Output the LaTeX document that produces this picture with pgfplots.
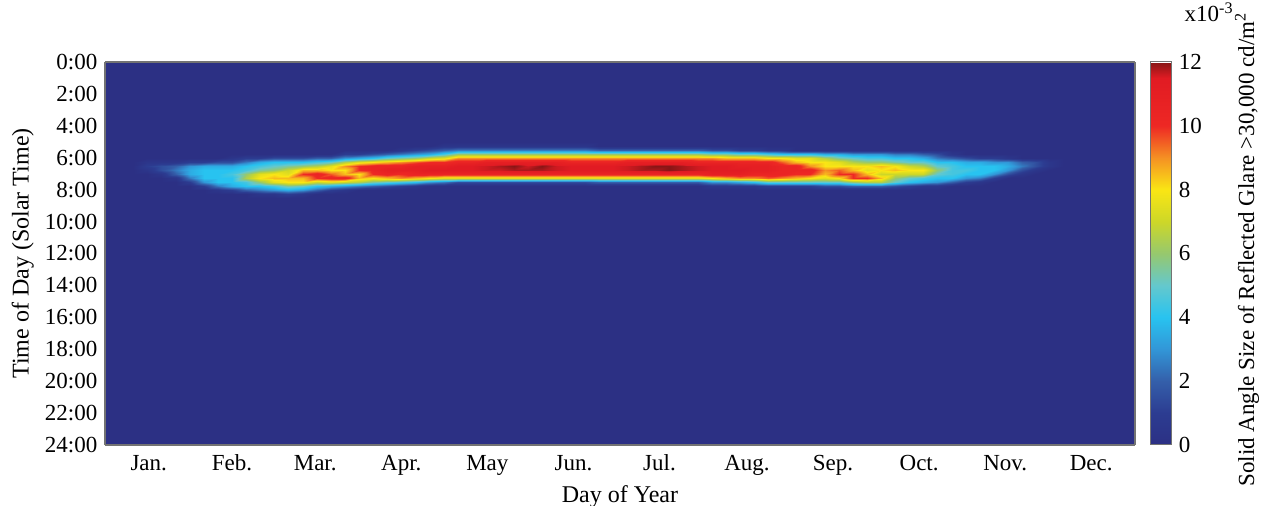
\documentclass[11pt,border=0pt]{standalone}
\usepackage{fontspec}
\setmainfont{Liberation Serif}
\usepackage{pgfplots}
\pgfplotsset{compat=1.18}

% jet-like map used by the glare plot (0 ... 12 x10^-3 sr)
\pgfplotsset{colormap={glare}{
  rgb255(0cm)=(44,48,132); rgb255(1cm)=(44,60,145); rgb255(2cm)=(52,95,170);
  rgb255(3cm)=(50,150,215); rgb255(4cm)=(40,195,240); rgb255(5cm)=(100,200,205);
  rgb255(6cm)=(150,200,110); rgb255(7cm)=(205,215,40); rgb255(8cm)=(250,230,20);
  rgb255(9cm)=(245,145,35); rgb255(10cm)=(238,40,36); rgb255(11.5cm)=(225,27,35);
  rgb255(12cm)=(135,22,22)}}

\begin{document}
\begin{tikzpicture}
\begin{axis}[
  name=main,
  view={0}{90},
  width=515pt, height=191.5pt, scale only axis,
  xmin=0, xmax=365, ymin=0, ymax=24,
  y dir=reverse,
  enlargelimits=false,
  xtick={15.5,45,74.5,105,135.5,166,196.5,227.5,258,288.5,319,349.5},
  xticklabels={Jan.,Feb.,Mar.,Apr.,May,Jun.,Jul.,Aug.,Sep.,Oct.,Nov.,Dec.},
  ytick={0,2,...,24},
  yticklabels={0:00,2:00,4:00,6:00,8:00,10:00,12:00,14:00,16:00,18:00,20:00,22:00,24:00},
  ztick=\empty,
  major tick length=0pt,
  tick label style={font=\fontsize{11.5}{13}\selectfont},
  xticklabel style={anchor=base, yshift=-12.5pt},
  label style={font=\fontsize{12}{14}\selectfont},
  xlabel={Day of Year},
  ylabel={Time of Day (Solar Time)},
  xlabel shift=-2pt,
  ylabel shift=-2pt,
  axis line style={draw=black!55, line width=0.6pt},
  point meta min=0, point meta max=12,
  colormap name=glare,
  colorbar,
  colorbar style={
    at={(parent axis.north east)}, anchor=north west, xshift=-1pt,
    width=10.5pt,
    ytick={0,2,...,12},
    yticklabels={0,2,4,6,8,10,12},
    major tick length=0pt,
    tick label style={font=\fontsize{11.5}{13}\selectfont},
    axis line style={draw=black!55, line width=0.5pt},
  },
  axis on top,
]
\addplot3[surf, shader=interp, mesh/ordering=y varies, mesh/rows=17]
  table[row sep=\\, x=d, y=t, z=v] {
d t v\\
0 0 0\\ 0 5 0\\ 0 5.25 0\\ 0 5.5 0\\ 0 5.75 0\\ 0 6 0\\ 0 6.25 0\\ 0 6.5 0\\ 0 6.75 0\\ 0 7 0\\ 0 7.25 0\\ 0 7.5 0\\ 0 7.75 0\\ 0 8 0\\ 0 8.25 0\\ 0 8.5 0\\ 0 24 0\\
10 0 0\\ 10 5 0\\ 10 5.25 0\\ 10 5.5 0\\ 10 5.75 0\\ 10 6 0\\ 10 6.25 0\\ 10 6.5 0\\ 10 6.75 0\\ 10 7 0\\ 10 7.25 0\\ 10 7.5 0\\ 10 7.75 0\\ 10 8 0\\ 10 8.25 0\\ 10 8.5 0\\ 10 24 0\\
15 0 0\\ 15 5 0\\ 15 5.25 0\\ 15 5.5 0\\ 15 5.75 0\\ 15 6 0\\ 15 6.25 0.5\\ 15 6.5 1\\ 15 6.75 0.5\\ 15 7 0\\ 15 7.25 0\\ 15 7.5 0\\ 15 7.75 0\\ 15 8 0\\ 15 8.25 0\\ 15 8.5 0\\ 15 24 0\\
20 0 0\\ 20 5 0\\ 20 5.25 0\\ 20 5.5 0\\ 20 5.75 0\\ 20 6 0\\ 20 6.25 0.5\\ 20 6.5 1.5\\ 20 6.75 1.5\\ 20 7 0.5\\ 20 7.25 0\\ 20 7.5 0\\ 20 7.75 0\\ 20 8 0\\ 20 8.25 0\\ 20 8.5 0\\ 20 24 0\\
25 0 0\\ 25 5 0\\ 25 5.25 0\\ 25 5.5 0\\ 25 5.75 0\\ 25 6 0\\ 25 6.25 0.5\\ 25 6.5 2\\ 25 6.75 2.5\\ 25 7 2\\ 25 7.25 0.5\\ 25 7.5 0\\ 25 7.75 0\\ 25 8 0\\ 25 8.25 0\\ 25 8.5 0\\ 25 24 0\\
30 0 0\\ 30 5 0\\ 30 5.25 0\\ 30 5.5 0\\ 30 5.75 0\\ 30 6 0\\ 30 6.25 1\\ 30 6.5 3\\ 30 6.75 3.5\\ 30 7 3.5\\ 30 7.25 2.5\\ 30 7.5 1\\ 30 7.75 0\\ 30 8 0\\ 30 8.25 0\\ 30 8.5 0\\ 30 24 0\\
35 0 0\\ 35 5 0\\ 35 5.25 0\\ 35 5.5 0\\ 35 5.75 0\\ 35 6 0\\ 35 6.25 1\\ 35 6.5 3.5\\ 35 6.75 4\\ 35 7 4\\ 35 7.25 4\\ 35 7.5 3\\ 35 7.75 1\\ 35 8 0\\ 35 8.25 0\\ 35 8.5 0\\ 35 24 0\\
40 0 0\\ 40 5 0\\ 40 5.25 0\\ 40 5.5 0\\ 40 5.75 0\\ 40 6 0\\ 40 6.25 1.5\\ 40 6.5 3.5\\ 40 6.75 4\\ 40 7 4\\ 40 7.25 4\\ 40 7.5 4\\ 40 7.75 2.5\\ 40 8 0.5\\ 40 8.25 0\\ 40 8.5 0\\ 40 24 0\\
45 0 0\\ 45 5 0\\ 45 5.25 0\\ 45 5.5 0\\ 45 5.75 0\\ 45 6 0.5\\ 45 6.25 1.5\\ 45 6.5 3.5\\ 45 6.75 4\\ 45 7 4.5\\ 45 7.25 4\\ 45 7.5 4\\ 45 7.75 3.5\\ 45 8 1\\ 45 8.25 0\\ 45 8.5 0\\ 45 24 0\\
50 0 0\\ 50 5 0\\ 50 5.25 0\\ 50 5.5 0\\ 50 5.75 0\\ 50 6 1\\ 50 6.25 2.5\\ 50 6.5 4\\ 50 6.75 4.5\\ 50 7 6\\ 50 7.25 6.5\\ 50 7.5 4.5\\ 50 7.75 4\\ 50 8 2\\ 50 8.25 0\\ 50 8.5 0\\ 50 24 0\\
55 0 0\\ 55 5 0\\ 55 5.25 0\\ 55 5.5 0\\ 55 5.75 0\\ 55 6 1\\ 55 6.25 3.5\\ 55 6.5 4.5\\ 55 6.75 5.5\\ 55 7 7.5\\ 55 7.25 8\\ 55 7.5 6\\ 55 7.75 4\\ 55 8 2.5\\ 55 8.25 0.5\\ 55 8.5 0\\ 55 24 0\\
60 0 0\\ 60 5 0\\ 60 5.25 0\\ 60 5.5 0\\ 60 5.75 0\\ 60 6 1.5\\ 60 6.25 4\\ 60 6.5 5\\ 60 6.75 6\\ 60 7 8\\ 60 7.25 8.5\\ 60 7.5 7.5\\ 60 7.75 4.5\\ 60 8 3\\ 60 8.25 0.5\\ 60 8.5 0\\ 60 24 0\\
65 0 0\\ 65 5 0\\ 65 5.25 0\\ 65 5.5 0\\ 65 5.75 0\\ 65 6 1.5\\ 65 6.25 4\\ 65 6.5 5.5\\ 65 6.75 7\\ 65 7 7.5\\ 65 7.25 8.5\\ 65 7.5 8\\ 65 7.75 5.5\\ 65 8 3.5\\ 65 8.25 1\\ 65 8.5 0\\ 65 24 0\\
70 0 0\\ 70 5 0\\ 70 5.25 0\\ 70 5.5 0\\ 70 5.75 0\\ 70 6 1.5\\ 70 6.25 4\\ 70 6.5 6\\ 70 6.75 8.5\\ 70 7 10\\ 70 7.25 8.5\\ 70 7.5 8\\ 70 7.75 5\\ 70 8 3\\ 70 8.25 0.5\\ 70 8.5 0\\ 70 24 0\\
75 0 0\\ 75 5 0\\ 75 5.25 0\\ 75 5.5 0\\ 75 5.75 0\\ 75 6 2\\ 75 6.25 4.5\\ 75 6.5 6.5\\ 75 6.75 8.5\\ 75 7 10.5\\ 75 7.25 10\\ 75 7.5 7\\ 75 7.75 4\\ 75 8 2\\ 75 8.25 0\\ 75 8.5 0\\ 75 24 0\\
80 0 0\\ 80 5 0\\ 80 5.25 0\\ 80 5.5 0\\ 80 5.75 0\\ 80 6 2\\ 80 6.25 5\\ 80 6.5 7.5\\ 80 6.75 8\\ 80 7 9.5\\ 80 7.25 10.5\\ 80 7.5 7.5\\ 80 7.75 3.5\\ 80 8 1\\ 80 8.25 0\\ 80 8.5 0\\ 80 24 0\\
85 0 0\\ 85 5 0\\ 85 5.25 0\\ 85 5.5 0\\ 85 5.75 1\\ 85 6 3\\ 85 6.25 6.5\\ 85 6.5 9\\ 85 6.75 8\\ 85 7 8.5\\ 85 7.25 10.5\\ 85 7.5 7\\ 85 7.75 3\\ 85 8 0.5\\ 85 8.25 0\\ 85 8.5 0\\ 85 24 0\\
90 0 0\\ 90 5 0\\ 90 5.25 0\\ 90 5.5 0\\ 90 5.75 1\\ 90 6 3.5\\ 90 6.25 7.5\\ 90 6.5 10\\ 90 6.75 10\\ 90 7 8\\ 90 7.25 8.5\\ 90 7.5 6.5\\ 90 7.75 2.5\\ 90 8 0\\ 90 8.25 0\\ 90 8.5 0\\ 90 24 0\\
95 0 0\\ 95 5 0\\ 95 5.25 0\\ 95 5.5 0\\ 95 5.75 1.5\\ 95 6 4\\ 95 6.25 8\\ 95 6.5 10.5\\ 95 6.75 10.5\\ 95 7 10\\ 95 7.25 8\\ 95 7.5 5.5\\ 95 7.75 2\\ 95 8 0\\ 95 8.25 0\\ 95 8.5 0\\ 95 24 0\\
100 0 0\\ 100 5 0\\ 100 5.25 0\\ 100 5.5 0\\ 100 5.75 2\\ 100 6 5\\ 100 6.25 8.5\\ 100 6.5 10.5\\ 100 6.75 11\\ 100 7 10.5\\ 100 7.25 8.5\\ 100 7.5 5\\ 100 7.75 1.5\\ 100 8 0\\ 100 8.25 0\\ 100 8.5 0\\ 100 24 0\\
105 0 0\\ 105 5 0\\ 105 5.25 0\\ 105 5.5 0.5\\ 105 5.75 2.5\\ 105 6 5.5\\ 105 6.25 9\\ 105 6.5 10.5\\ 105 6.75 11\\ 105 7 10\\ 105 7.25 9\\ 105 7.5 4.5\\ 105 7.75 1\\ 105 8 0\\ 105 8.25 0\\ 105 8.5 0\\ 105 24 0\\
110 0 0\\ 110 5 0\\ 110 5.25 0\\ 110 5.5 1\\ 110 5.75 3\\ 110 6 6\\ 110 6.25 9.5\\ 110 6.5 11\\ 110 6.75 11\\ 110 7 10.5\\ 110 7.25 8.5\\ 110 7.5 4\\ 110 7.75 0.5\\ 110 8 0\\ 110 8.25 0\\ 110 8.5 0\\ 110 24 0\\
115 0 0\\ 115 5 0\\ 115 5.25 0\\ 115 5.5 1.5\\ 115 5.75 3.5\\ 115 6 7\\ 115 6.25 10\\ 115 6.5 11\\ 115 6.75 11.5\\ 115 7 10.5\\ 115 7.25 8\\ 115 7.5 3\\ 115 7.75 0\\ 115 8 0\\ 115 8.25 0\\ 115 8.5 0\\ 115 24 0\\
120 0 0\\ 120 5 0\\ 120 5.25 0.5\\ 120 5.5 2\\ 120 5.75 4.5\\ 120 6 7.5\\ 120 6.25 10\\ 120 6.5 11\\ 120 6.75 11.5\\ 120 7 10.5\\ 120 7.25 7.5\\ 120 7.5 2.5\\ 120 7.75 0\\ 120 8 0\\ 120 8.25 0\\ 120 8.5 0\\ 120 24 0\\
125 0 0\\ 125 5 0\\ 125 5.25 0.5\\ 125 5.5 2.5\\ 125 5.75 6\\ 125 6 9\\ 125 6.25 10.5\\ 125 6.5 11.5\\ 125 6.75 11.5\\ 125 7 10.5\\ 125 7.25 7.5\\ 125 7.5 1.5\\ 125 7.75 0\\ 125 8 0\\ 125 8.25 0\\ 125 8.5 0\\ 125 24 0\\
130 0 0\\ 130 5 0\\ 130 5.25 0.5\\ 130 5.5 2.5\\ 130 5.75 6\\ 130 6 9\\ 130 6.25 10.5\\ 130 6.5 11.5\\ 130 6.75 11.5\\ 130 7 10.5\\ 130 7.25 7.5\\ 130 7.5 1.5\\ 130 7.75 0\\ 130 8 0\\ 130 8.25 0\\ 130 8.5 0\\ 130 24 0\\
135 0 0\\ 135 5 0\\ 135 5.25 0.5\\ 135 5.5 2.5\\ 135 5.75 6\\ 135 6 9\\ 135 6.25 11\\ 135 6.5 11.6\\ 135 6.75 11.6\\ 135 7 10.5\\ 135 7.25 7.5\\ 135 7.5 1.5\\ 135 7.75 0\\ 135 8 0\\ 135 8.25 0\\ 135 8.5 0\\ 135 24 0\\
140 0 0\\ 140 5 0\\ 140 5.25 0.5\\ 140 5.5 2.5\\ 140 5.75 6\\ 140 6 9\\ 140 6.25 11\\ 140 6.5 11.8\\ 140 6.75 11.6\\ 140 7 10.5\\ 140 7.25 7.5\\ 140 7.5 1.5\\ 140 7.75 0\\ 140 8 0\\ 140 8.25 0\\ 140 8.5 0\\ 140 24 0\\
145 0 0\\ 145 5 0\\ 145 5.25 0.5\\ 145 5.5 2.5\\ 145 5.75 6\\ 145 6 9\\ 145 6.25 11\\ 145 6.5 12\\ 145 6.75 11.8\\ 145 7 10.5\\ 145 7.25 7.5\\ 145 7.5 1.5\\ 145 7.75 0\\ 145 8 0\\ 145 8.25 0\\ 145 8.5 0\\ 145 24 0\\
150 0 0\\ 150 5 0\\ 150 5.25 0.5\\ 150 5.5 2.5\\ 150 5.75 6\\ 150 6 9\\ 150 6.25 11\\ 150 6.5 11.6\\ 150 6.75 11.8\\ 150 7 10.5\\ 150 7.25 7.5\\ 150 7.5 1.5\\ 150 7.75 0\\ 150 8 0\\ 150 8.25 0\\ 150 8.5 0\\ 150 24 0\\
155 0 0\\ 155 5 0\\ 155 5.25 0.5\\ 155 5.5 2.5\\ 155 5.75 6\\ 155 6 9\\ 155 6.25 11\\ 155 6.5 12\\ 155 6.75 11.8\\ 155 7 10.5\\ 155 7.25 7.5\\ 155 7.5 1.5\\ 155 7.75 0\\ 155 8 0\\ 155 8.25 0\\ 155 8.5 0\\ 155 24 0\\
160 0 0\\ 160 5 0\\ 160 5.25 0.5\\ 160 5.5 2.5\\ 160 5.75 6\\ 160 6 9\\ 160 6.25 11\\ 160 6.5 11.6\\ 160 6.75 11.6\\ 160 7 10.5\\ 160 7.25 7.5\\ 160 7.5 1.5\\ 160 7.75 0\\ 160 8 0\\ 160 8.25 0\\ 160 8.5 0\\ 160 24 0\\
165 0 0\\ 165 5 0\\ 165 5.25 0.5\\ 165 5.5 2.5\\ 165 5.75 6\\ 165 6 9\\ 165 6.25 10.5\\ 165 6.5 11.5\\ 165 6.75 11.5\\ 165 7 10.5\\ 165 7.25 7.5\\ 165 7.5 1.5\\ 165 7.75 0\\ 165 8 0\\ 165 8.25 0\\ 165 8.5 0\\ 165 24 0\\
170 0 0\\ 170 5 0\\ 170 5.25 0.5\\ 170 5.5 2.5\\ 170 5.75 6\\ 170 6 9\\ 170 6.25 10.5\\ 170 6.5 11.5\\ 170 6.75 11.5\\ 170 7 10.5\\ 170 7.25 7.5\\ 170 7.5 1.5\\ 170 7.75 0\\ 170 8 0\\ 170 8.25 0\\ 170 8.5 0\\ 170 24 0\\
175 0 0\\ 175 5 0\\ 175 5.25 0\\ 175 5.5 2\\ 175 5.75 6\\ 175 6 9\\ 175 6.25 10.5\\ 175 6.5 11.5\\ 175 6.75 11.5\\ 175 7 10.5\\ 175 7.25 7.5\\ 175 7.5 2\\ 175 7.75 0\\ 175 8 0\\ 175 8.25 0\\ 175 8.5 0\\ 175 24 0\\
180 0 0\\ 180 5 0\\ 180 5.25 0\\ 180 5.5 2\\ 180 5.75 6\\ 180 6 9\\ 180 6.25 10.5\\ 180 6.5 11.5\\ 180 6.75 11.5\\ 180 7 10.5\\ 180 7.25 7.5\\ 180 7.5 2\\ 180 7.75 0\\ 180 8 0\\ 180 8.25 0\\ 180 8.5 0\\ 180 24 0\\
185 0 0\\ 185 5 0\\ 185 5.25 0\\ 185 5.5 2\\ 185 5.75 6\\ 185 6 9\\ 185 6.25 11\\ 185 6.5 11.6\\ 185 6.75 11.6\\ 185 7 10.5\\ 185 7.25 7.5\\ 185 7.5 2\\ 185 7.75 0\\ 185 8 0\\ 185 8.25 0\\ 185 8.5 0\\ 185 24 0\\
190 0 0\\ 190 5 0\\ 190 5.25 0\\ 190 5.5 2\\ 190 5.75 6\\ 190 6 9\\ 190 6.25 11\\ 190 6.5 11.8\\ 190 6.75 11.8\\ 190 7 10.5\\ 190 7.25 7.5\\ 190 7.5 2\\ 190 7.75 0\\ 190 8 0\\ 190 8.25 0\\ 190 8.5 0\\ 190 24 0\\
195 0 0\\ 195 5 0\\ 195 5.25 0\\ 195 5.5 2\\ 195 5.75 6\\ 195 6 9\\ 195 6.25 11\\ 195 6.5 12\\ 195 6.75 11.8\\ 195 7 10.5\\ 195 7.25 7.5\\ 195 7.5 2\\ 195 7.75 0\\ 195 8 0\\ 195 8.25 0\\ 195 8.5 0\\ 195 24 0\\
200 0 0\\ 200 5 0\\ 200 5.25 0\\ 200 5.5 2\\ 200 5.75 6\\ 200 6 9\\ 200 6.25 11\\ 200 6.5 12\\ 200 6.75 12\\ 200 7 10.5\\ 200 7.25 7.5\\ 200 7.5 2\\ 200 7.75 0\\ 200 8 0\\ 200 8.25 0\\ 200 8.5 0\\ 200 24 0\\
205 0 0\\ 205 5 0\\ 205 5.25 0\\ 205 5.5 2\\ 205 5.75 6\\ 205 6 9\\ 205 6.25 11\\ 205 6.5 11.8\\ 205 6.75 11.8\\ 205 7 10.5\\ 205 7.25 7.5\\ 205 7.5 2\\ 205 7.75 0\\ 205 8 0\\ 205 8.25 0\\ 205 8.5 0\\ 205 24 0\\
210 0 0\\ 210 5 0\\ 210 5.25 0\\ 210 5.5 2\\ 210 5.75 6\\ 210 6 9\\ 210 6.25 10.5\\ 210 6.5 11.6\\ 210 6.75 11.6\\ 210 7 10.5\\ 210 7.25 7.5\\ 210 7.5 2\\ 210 7.75 0\\ 210 8 0\\ 210 8.25 0\\ 210 8.5 0\\ 210 24 0\\
215 0 0\\ 215 5 0\\ 215 5.25 0\\ 215 5.5 1.5\\ 215 5.75 5.5\\ 215 6 9\\ 215 6.25 10.5\\ 215 6.5 11.5\\ 215 6.75 11.5\\ 215 7 11\\ 215 7.25 8\\ 215 7.5 3\\ 215 7.75 0.5\\ 215 8 0\\ 215 8.25 0\\ 215 8.5 0\\ 215 24 0\\
220 0 0\\ 220 5 0\\ 220 5.25 0\\ 220 5.5 1.5\\ 220 5.75 5.5\\ 220 6 8.5\\ 220 6.25 10.5\\ 220 6.5 11.5\\ 220 6.75 11.5\\ 220 7 11\\ 220 7.25 8.5\\ 220 7.5 3\\ 220 7.75 0.5\\ 220 8 0\\ 220 8.25 0\\ 220 8.5 0\\ 220 24 0\\
225 0 0\\ 225 5 0\\ 225 5.25 0\\ 225 5.5 1\\ 225 5.75 5\\ 225 6 8.5\\ 225 6.25 10.5\\ 225 6.5 11\\ 225 6.75 11.5\\ 225 7 11\\ 225 7.25 9\\ 225 7.5 3.5\\ 225 7.75 0.5\\ 225 8 0\\ 225 8.25 0\\ 225 8.5 0\\ 225 24 0\\
230 0 0\\ 230 5 0\\ 230 5.25 0\\ 230 5.5 1\\ 230 5.75 5\\ 230 6 8.5\\ 230 6.25 10.5\\ 230 6.5 11\\ 230 6.75 11\\ 230 7 10.5\\ 230 7.25 9\\ 230 7.5 4\\ 230 7.75 0.5\\ 230 8 0\\ 230 8.25 0\\ 230 8.5 0\\ 230 24 0\\
235 0 0\\ 235 5 0\\ 235 5.25 0\\ 235 5.5 0.5\\ 235 5.75 4.5\\ 235 6 8\\ 235 6.25 10.5\\ 235 6.5 11\\ 235 6.75 11\\ 235 7 10.5\\ 235 7.25 9.5\\ 235 7.5 5\\ 235 7.75 1\\ 235 8 0\\ 235 8.25 0\\ 235 8.5 0\\ 235 24 0\\
240 0 0\\ 240 5 0\\ 240 5.25 0\\ 240 5.5 0.5\\ 240 5.75 4\\ 240 6 8\\ 240 6.25 9.5\\ 240 6.5 10.5\\ 240 6.75 10.5\\ 240 7 10.5\\ 240 7.25 9\\ 240 7.5 5\\ 240 7.75 1\\ 240 8 0\\ 240 8.25 0\\ 240 8.5 0\\ 240 24 0\\
245 0 0\\ 245 5 0\\ 245 5.25 0\\ 245 5.5 0\\ 245 5.75 4\\ 245 6 7.5\\ 245 6.25 8.5\\ 245 6.5 10.5\\ 245 6.75 10.5\\ 245 7 10\\ 245 7.25 8.5\\ 245 7.5 5\\ 245 7.75 1\\ 245 8 0\\ 245 8.25 0\\ 245 8.5 0\\ 245 24 0\\
250 0 0\\ 250 5 0\\ 250 5.25 0\\ 250 5.5 0\\ 250 5.75 4\\ 250 6 7.5\\ 250 6.25 8\\ 250 6.5 9\\ 250 6.75 10.5\\ 250 7 10\\ 250 7.25 8\\ 250 7.5 5\\ 250 7.75 1\\ 250 8 0\\ 250 8.25 0\\ 250 8.5 0\\ 250 24 0\\
255 0 0\\ 255 5 0\\ 255 5.25 0\\ 255 5.5 0\\ 255 5.75 3.5\\ 255 6 6.5\\ 255 6.25 8\\ 255 6.5 8\\ 255 6.75 9\\ 255 7 8.5\\ 255 7.25 7.5\\ 255 7.5 5\\ 255 7.75 1.5\\ 255 8 0\\ 255 8.25 0\\ 255 8.5 0\\ 255 24 0\\
260 0 0\\ 260 5 0\\ 260 5.25 0\\ 260 5.5 0\\ 260 5.75 3.5\\ 260 6 5.5\\ 260 6.25 7.5\\ 260 6.5 8\\ 260 6.75 9.5\\ 260 7 10\\ 260 7.25 8\\ 260 7.5 5\\ 260 7.75 1.5\\ 260 8 0\\ 260 8.25 0\\ 260 8.5 0\\ 260 24 0\\
265 0 0\\ 265 5 0\\ 265 5.25 0\\ 265 5.5 0\\ 265 5.75 3\\ 265 6 5\\ 265 6.25 6.5\\ 265 6.5 8\\ 265 6.75 8.5\\ 265 7 10\\ 265 7.25 10\\ 265 7.5 6\\ 265 7.75 2\\ 265 8 0\\ 265 8.25 0\\ 265 8.5 0\\ 265 24 0\\
270 0 0\\ 270 5 0\\ 270 5.25 0\\ 270 5.5 0\\ 270 5.75 3\\ 270 6 4.5\\ 270 6.25 6\\ 270 6.5 8\\ 270 6.75 7.5\\ 270 7 8.5\\ 270 7.25 10\\ 270 7.5 6.5\\ 270 7.75 2\\ 270 8 0\\ 270 8.25 0\\ 270 8.5 0\\ 270 24 0\\
275 0 0\\ 275 5 0\\ 275 5.25 0\\ 275 5.5 0\\ 275 5.75 3\\ 275 6 4.5\\ 275 6.25 6\\ 275 6.5 8.5\\ 275 6.75 8\\ 275 7 7\\ 275 7.25 8.5\\ 275 7.5 6.5\\ 275 7.75 2\\ 275 8 0\\ 275 8.25 0\\ 275 8.5 0\\ 275 24 0\\
280 0 0\\ 280 5 0\\ 280 5.25 0\\ 280 5.5 0\\ 280 5.75 2.5\\ 280 6 4\\ 280 6.25 5.5\\ 280 6.5 8\\ 280 6.75 8.5\\ 280 7 7\\ 280 7.25 6\\ 280 7.5 5\\ 280 7.75 1.5\\ 280 8 0\\ 280 8.25 0\\ 280 8.5 0\\ 280 24 0\\
285 0 0\\ 285 5 0\\ 285 5.25 0\\ 285 5.5 0\\ 285 5.75 2.5\\ 285 6 4\\ 285 6.25 5\\ 285 6.5 7\\ 285 6.75 8\\ 285 7 7\\ 285 7.25 5\\ 285 7.5 4\\ 285 7.75 1\\ 285 8 0\\ 285 8.25 0\\ 285 8.5 0\\ 285 24 0\\
290 0 0\\ 290 5 0\\ 290 5.25 0\\ 290 5.5 0\\ 290 5.75 2\\ 290 6 3.5\\ 290 6.25 5\\ 290 6.5 6.5\\ 290 6.75 8\\ 290 7 7\\ 290 7.25 4.5\\ 290 7.5 3.5\\ 290 7.75 0.5\\ 290 8 0\\ 290 8.25 0\\ 290 8.5 0\\ 290 24 0\\
295 0 0\\ 295 5 0\\ 295 5.25 0\\ 295 5.5 0\\ 295 5.75 1.5\\ 295 6 2.5\\ 295 6.25 4\\ 295 6.5 5\\ 295 6.75 6\\ 295 7 5\\ 295 7.25 4\\ 295 7.5 3\\ 295 7.75 0.5\\ 295 8 0\\ 295 8.25 0\\ 295 8.5 0\\ 295 24 0\\
300 0 0\\ 300 5 0\\ 300 5.25 0\\ 300 5.5 0\\ 300 5.75 0.5\\ 300 6 2\\ 300 6.25 4\\ 300 6.5 4.5\\ 300 6.75 4.5\\ 300 7 4.5\\ 300 7.25 4\\ 300 7.5 2\\ 300 7.75 0\\ 300 8 0\\ 300 8.25 0\\ 300 8.5 0\\ 300 24 0\\
305 0 0\\ 305 5 0\\ 305 5.25 0\\ 305 5.5 0\\ 305 5.75 0\\ 305 6 1.5\\ 305 6.25 3.5\\ 305 6.5 4\\ 305 6.75 4.5\\ 305 7 4\\ 305 7.25 3\\ 305 7.5 1\\ 305 7.75 0\\ 305 8 0\\ 305 8.25 0\\ 305 8.5 0\\ 305 24 0\\
310 0 0\\ 310 5 0\\ 310 5.25 0\\ 310 5.5 0\\ 310 5.75 0\\ 310 6 1\\ 310 6.25 3.5\\ 310 6.5 4\\ 310 6.75 4\\ 310 7 4\\ 310 7.25 2.5\\ 310 7.5 0.5\\ 310 7.75 0\\ 310 8 0\\ 310 8.25 0\\ 310 8.5 0\\ 310 24 0\\
315 0 0\\ 315 5 0\\ 315 5.25 0\\ 315 5.5 0\\ 315 5.75 0\\ 315 6 1\\ 315 6.25 3\\ 315 6.5 4\\ 315 6.75 4\\ 315 7 3\\ 315 7.25 1\\ 315 7.5 0\\ 315 7.75 0\\ 315 8 0\\ 315 8.25 0\\ 315 8.5 0\\ 315 24 0\\
320 0 0\\ 320 5 0\\ 320 5.25 0\\ 320 5.5 0\\ 320 5.75 0\\ 320 6 0.5\\ 320 6.25 3\\ 320 6.5 3.5\\ 320 6.75 3\\ 320 7 1.5\\ 320 7.25 0\\ 320 7.5 0\\ 320 7.75 0\\ 320 8 0\\ 320 8.25 0\\ 320 8.5 0\\ 320 24 0\\
325 0 0\\ 325 5 0\\ 325 5.25 0\\ 325 5.5 0\\ 325 5.75 0\\ 325 6 0\\ 325 6.25 2\\ 325 6.5 2.5\\ 325 6.75 1.5\\ 325 7 0.5\\ 325 7.25 0\\ 325 7.5 0\\ 325 7.75 0\\ 325 8 0\\ 325 8.25 0\\ 325 8.5 0\\ 325 24 0\\
330 0 0\\ 330 5 0\\ 330 5.25 0\\ 330 5.5 0\\ 330 5.75 0\\ 330 6 0\\ 330 6.25 1.5\\ 330 6.5 1.5\\ 330 6.75 0.5\\ 330 7 0\\ 330 7.25 0\\ 330 7.5 0\\ 330 7.75 0\\ 330 8 0\\ 330 8.25 0\\ 330 8.5 0\\ 330 24 0\\
335 0 0\\ 335 5 0\\ 335 5.25 0\\ 335 5.5 0\\ 335 5.75 0\\ 335 6 0\\ 335 6.25 0.5\\ 335 6.5 0.5\\ 335 6.75 0\\ 335 7 0\\ 335 7.25 0\\ 335 7.5 0\\ 335 7.75 0\\ 335 8 0\\ 335 8.25 0\\ 335 8.5 0\\ 335 24 0\\
340 0 0\\ 340 5 0\\ 340 5.25 0\\ 340 5.5 0\\ 340 5.75 0\\ 340 6 0\\ 340 6.25 0\\ 340 6.5 0\\ 340 6.75 0\\ 340 7 0\\ 340 7.25 0\\ 340 7.5 0\\ 340 7.75 0\\ 340 8 0\\ 340 8.25 0\\ 340 8.5 0\\ 340 24 0\\
365 0 0\\ 365 5 0\\ 365 5.25 0\\ 365 5.5 0\\ 365 5.75 0\\ 365 6 0\\ 365 6.25 0\\ 365 6.5 0\\ 365 6.75 0\\ 365 7 0\\ 365 7.25 0\\ 365 7.5 0\\ 365 7.75 0\\ 365 8 0\\ 365 8.25 0\\ 365 8.5 0\\ 365 24 0\\
};
\end{axis}
\node[anchor=base west, font=\fontsize{11.5}{13}\selectfont] at ([xshift=21pt,yshift=20pt]main.north east) {x10\textsuperscript{-3}};
\node[rotate=90, font=\fontsize{11.5}{14}\selectfont] at ([xshift=56pt,yshift=2pt]main.east) {Solid Angle Size of Reflected Glare >30,000 cd/m\textsuperscript{2}};
\pgfresetboundingbox
\path[use as bounding box] ([shift={(-52.5pt,-30.5pt)}]main.south west) rectangle ([shift={(66pt,31pt)}]main.north east);
\end{tikzpicture}
\end{document}
